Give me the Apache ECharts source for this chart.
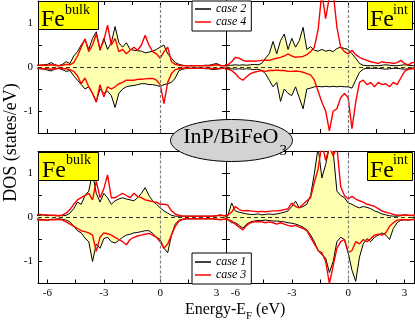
<!DOCTYPE html>
<html>
<head>
<meta charset="utf-8">
<script src="https://cdn.jsdelivr.net/npm/echarts@6/dist/echarts.min.js"></script>
<style>
  html, body { margin: 0; padding: 0; background: #fff; }
  #chart { width: 415px; height: 323px; }
</style>
</head>
<body>
<div id="chart"></div>
<script>
// energy grid (eV, relative to E_F)
const energy = [
  -6.6, -6.4, -6.2, -6.0, -5.8, -5.6, -5.4, -5.2, -5.0, -4.8,
  -4.6, -4.4, -4.2, -4.0, -3.8, -3.6, -3.4, -3.2, -3.0, -2.8,
  -2.6, -2.4, -2.2, -2.0, -1.8, -1.6, -1.4, -1.2, -1.0, -0.8,
  -0.6, -0.4, -0.2, 0.0, 0.2, 0.4, 0.6, 0.8, 1.0, 1.2,
  1.4, 1.6, 1.8, 2.0, 2.2, 2.4, 2.6, 2.8, 3.0, 3.2,
  3.4, 3.6
]

// Fe bulk, case 2 (black) / case 4 (red)
const bulkUp2 = [
  0.03, 0.04, 0.05, 0.06, 0.1, 0.05, 0.03, 0.06, 0.12, 0.08,
  0.25, 0.35, 0.5, 0.62, 0.4, 0.65, 0.8, 0.38, 0.65, 0.4,
  0.55, 0.92, 0.55, 0.45, 0.55, 0.4, 0.38, 0.37, 0.36, 0.32,
  0.34, 0.36, 0.4, 0.45, 0.5, 0.3, 0.2, 0.1, 0.06, 0.04,
  0.03, 0.03, 0.03, 0.03, 0.03, 0.04, 0.04, 0.06, 0.08, 0.04,
  0.03, 0.03
]
const bulkDn2 = [
  -0.03, -0.04, -0.05, -0.07, -0.09, -0.05, -0.03, -0.06, -0.1, -0.08,
  -0.2, -0.3, -0.4, -0.5, -0.45, -0.6, -0.78, -0.5, -0.6, -0.55,
  -0.65, -0.92, -0.6, -0.5, -0.45, -0.43, -0.42, -0.4, -0.38, -0.38,
  -0.4, -0.4, -0.42, -0.44, -0.4, -0.38, -0.35, -0.25, -0.08, -0.05,
  -0.03, -0.03, -0.03, -0.03, -0.03, -0.04, -0.04, -0.06, -0.05, -0.04,
  -0.03, -0.03
]
const bulkUp4 = [
  0.04, 0.04, 0.04, 0.04, 0.05, 0.04, 0.03, 0.04, 0.06, 0.05,
  0.1, 0.25, 0.45, 0.64, 0.35, 0.5, 0.75, 0.4, 0.6, 0.95,
  0.5, 0.65, 0.35, 0.4, 0.3, 0.38, 0.45, 0.38, 0.5, 0.72,
  0.5, 0.35, 0.3, 0.2, 0.35, 0.45, 0.12, 0.06, 0.04, 0.03,
  0.03, 0.03, 0.03, 0.03, 0.03, 0.03, 0.03, 0.04, 0.05, 0.03,
  0.03, 0.03
]
const bulkDn4 = [
  -0.03, -0.03, -0.04, -0.04, -0.05, -0.04, -0.03, -0.04, -0.04, -0.06,
  -0.1, -0.2, -0.38, -0.25, -0.45, -0.6, -0.8, -0.4, -0.68, -0.45,
  -0.5, -0.45, -0.38, -0.35, -0.3, -0.3, -0.3, -0.28, -0.28, -0.27,
  -0.26, -0.26, -0.3, -0.4, -0.83, -0.35, -0.15, -0.06, -0.04, -0.03,
  -0.03, -0.03, -0.03, -0.03, -0.03, -0.03, -0.03, -0.04, -0.04, -0.03,
  -0.03, -0.03
]

// Fe int, case 2 (black) / case 4 (red)
const intUp2 = [
  0.03, 0.04, 0.04, 0.05, 0.04, 0.05, 0.04, 0.05, 0.06, 0.05,
  0.08, 0.2, 0.3, 0.58, 0.3, 0.6, 0.75, 0.4, 0.65, 0.45,
  0.6, 0.9, 0.4, 0.46, 0.38, 0.36, 0.4, 0.36, 0.38, 0.35,
  0.42, 0.45, 0.42, 0.4, 0.3, 0.2, 0.08, 0.04, 0.03, 0.03,
  0.03, 0.03, 0.04, 0.05, 0.04, 0.03, 0.03, 0.04, 0.05, 0.04,
  0.03, 0.03
]
const intDn2 = [
  -0.03, -0.04, -0.04, -0.05, -0.04, -0.05, -0.04, -0.05, -0.06, -0.05,
  -0.08, -0.15, -0.3, -0.45, -0.35, -0.78, -0.5, -0.6, -0.65, -0.45,
  -0.7, -0.95, -0.5, -0.48, -0.45, -0.44, -0.45, -0.44, -0.45, -0.44,
  -0.45, -0.44, -0.45, -0.45, -0.48, -0.3, -0.12, -0.05, -0.03, -0.03,
  -0.03, -0.03, -0.04, -0.05, -0.04, -0.03, -0.03, -0.04, -0.05, -0.04,
  -0.03, -0.03
]
const intUp4 = [
  0.05, 0.05, 0.12, 0.22, 0.2, 0.15, 0.13, 0.14, 0.13, 0.14,
  0.15, 0.16, 0.15, 0.18, 0.2, 0.22, 0.25, 0.3, 0.25, 0.22,
  0.23, 0.24, 0.28, 0.35, 0.45, 0.85, 1.7, 1.1, 1.6, 1.7,
  0.9, 0.45, 0.35, 0.3, 0.38, 0.28, 0.22, 0.18, 0.15, 0.12,
  0.1, 0.08, 0.12, 0.1, 0.1, 0.08, 0.1, 0.15, 0.08, 0.05,
  0.1, 0.1
]
const intDn4 = [
  -0.05, -0.05, -0.08, -0.15, -0.25, -0.3, -0.22, -0.15, -0.12, -0.1,
  -0.08, -0.1, -0.08, -0.08, -0.07, -0.08, -0.08, -0.1, -0.1, -0.09,
  -0.1, -0.12, -0.15, -0.18, -0.3, -0.55, -0.8, -1.0, -1.45, -1.0,
  -0.95, -0.7, -0.6, -0.7, -1.4, -0.8, -0.35, -0.3, -0.4, -0.35,
  -0.45, -0.35, -0.4, -0.38, -0.45, -0.35, -0.4, -0.25, -0.1, -0.05,
  -0.04, -0.03
]

// Fe bulk, case 1 (black) / case 3 (red)
const bulkUp1 = [
  0.04, 0.05, 0.06, 0.04, 0.05, 0.04, 0.04, 0.04, 0.05, 0.1,
  0.2, 0.35, 0.3, 0.5, 0.6, 1.02, 0.55, 0.35, 0.55, 0.45,
  0.3, 0.38, 0.42, 0.45, 0.42, 0.4, 0.38, 0.45, 0.55, 0.68,
  0.5, 0.38, 0.3, 0.22, 0.15, 0.1, 0.05, 0.03, 0.03, 0.03,
  0.03, 0.03, 0.03, 0.03, 0.03, 0.03, 0.03, 0.03, 0.04, 0.06,
  0.04, 0.04
]
const bulkDn1 = [
  -0.03, -0.04, -0.05, -0.06, -0.04, -0.04, -0.03, -0.04, -0.06, -0.1,
  -0.2, -0.3, -0.35, -0.47, -0.55, -1.0, -0.6, -0.7, -0.48, -0.45,
  -0.55, -0.58, -0.52, -0.45, -0.4, -0.38, -0.35, -0.34, -0.32, -0.3,
  -0.3, -0.36, -0.45, -0.5, -0.7, -0.8, -0.4, -0.15, -0.06, -0.04,
  -0.03, -0.03, -0.03, -0.03, -0.03, -0.03, -0.03, -0.03, -0.04, -0.05,
  -0.04, -0.03
]
const bulkUp3 = [
  0.06, 0.07, 0.06, 0.06, 0.05, 0.05, 0.04, 0.06, 0.1, 0.18,
  0.3, 0.4, 0.45, 0.5, 0.55, 0.4, 0.82, 0.45, 0.65, 0.97,
  0.45, 0.45, 0.5, 0.55, 0.5, 0.45, 0.55, 0.48, 0.45, 0.4,
  0.38, 0.36, 0.35, 0.3, 0.3, 0.28, 0.15, 0.08, 0.05, 0.03,
  0.03, 0.03, 0.03, 0.03, 0.03, 0.03, 0.03, 0.03, 0.04, 0.05,
  0.04, 0.04
]
const bulkDn3 = [
  -0.05, -0.06, -0.05, -0.06, -0.05, -0.05, -0.04, -0.06, -0.1, -0.15,
  -0.2, -0.25, -0.3, -0.32, -0.35, -0.4, -0.77, -0.45, -0.35, -0.37,
  -0.4, -0.45, -0.5, -0.55, -0.62, -0.5, -0.45, -0.42, -0.4, -0.38,
  -0.36, -0.4, -0.45, -0.55, -0.7, -0.6, -0.4, -0.2, -0.08, -0.04,
  -0.03, -0.03, -0.03, -0.03, -0.03, -0.03, -0.03, -0.03, -0.04, -0.05,
  -0.04, -0.03
]

// Fe int, case 1 (black) / case 3 (red)
const intUp1 = [
  0.03, 0.04, 0.33, 0.15, 0.12, 0.1, 0.08, 0.07, 0.07, 0.08,
  0.06, 0.07, 0.08, 0.07, 0.08, 0.1, 0.12, 0.15, 0.25, 0.37,
  0.22, 0.25, 0.3, 0.5, 1.0, 1.6, 0.9, 1.2, 1.6, 1.5,
  0.6, 0.5, 0.45, 0.33, 0.3, 0.25, 0.22, 0.25, 0.23, 0.2,
  0.15, 0.12, 0.08, 0.06, 0.04, 0.03, 0.03, 0.04, 0.06, 0.05,
  0.04, 0.04
]
const intDn1 = [
  -0.03, -0.05, -0.12, -0.12, -0.18, -0.24, -0.15, -0.1, -0.08, -0.07,
  -0.07, -0.06, -0.07, -0.08, -0.08, -0.09, -0.1, -0.12, -0.13, -0.15,
  -0.18, -0.22, -0.28, -0.4, -0.55, -0.75, -0.85, -0.92, -1.25, -1.0,
  -0.55, -0.45, -0.5, -0.8, -1.2, -1.45, -0.9, -0.6, -0.48, -0.55,
  -0.45, -0.4, -0.35, -0.4, -0.5, -0.25, -0.12, -0.06, -0.05, -0.06,
  -0.04, -0.03
]
const intUp3 = [
  0.05, 0.06, 0.12, 0.25, 0.18, 0.15, 0.16, 0.15, 0.14, 0.13,
  0.14, 0.13, 0.14, 0.15, 0.15, 0.16, 0.18, 0.2, 0.33, 0.25,
  0.22, 0.3, 0.38, 0.45, 0.8, 1.1, 1.7, 1.3, 1.6, 1.4,
  1.6, 0.7, 0.5, 0.42, 0.48, 0.42, 0.38, 0.35, 0.3, 0.28,
  0.25, 0.2, 0.15, 0.12, 0.1, 0.07, 0.05, 0.05, 0.06, 0.05,
  0.05, 0.05
]
const intDn3 = [
  -0.04, -0.05, -0.08, -0.15, -0.22, -0.28, -0.18, -0.12, -0.1, -0.09,
  -0.1, -0.12, -0.1, -0.12, -0.15, -0.12, -0.15, -0.18, -0.2, -0.18,
  -0.22, -0.25, -0.3, -0.45, -0.6, -0.75, -0.8, -1.0, -1.5, -1.1,
  -0.7, -0.55, -0.5, -0.8, -0.75, -0.55, -0.6, -0.5, -0.55, -0.48,
  -0.4, -0.38, -0.4, -0.35, -0.2, -0.12, -0.06, -0.05, -0.05, -0.06,
  -0.05, -0.04
]

const xTicks = [-6, -4.5, -3, -1.5, 0, 1.5, 3]
const xLabels = [-6, -3, 0, 3]
const yTicks = [-1, -0.5, 0, 0.5, 1]
const yLabels = [-1, 0, 1]

const FONT = '"Liberation Serif", "DejaVu Serif", serif'
const AREA = '#ffffb0'

const panels = [
  { left: 38, top: 1, showX: false, showY: true, black: 'case 2', red: 'case 4', data: [bulkUp2, bulkDn2, bulkUp4, bulkDn4] },
  { left: 226, top: 1, showX: false, showY: false, black: 'case 2', red: 'case 4', data: [intUp2, intDn2, intUp4, intDn4] },
  { left: 38, top: 151.5, showX: true, showY: true, black: 'case 1', red: 'case 3', data: [bulkUp1, bulkDn1, bulkUp3, bulkDn3] },
  { left: 226, top: 151.5, showX: true, showY: false, black: 'case 1', red: 'case 3', data: [intUp1, intDn1, intUp3, intDn3] }
]

const labelStyle = { color: '#000', fontFamily: FONT, fontSize: 11 }

function xAxisFor(i, position, show) {
  return {
    type: 'value', gridIndex: i, position, min: -6.5, max: 3.5,
    axisLine: { onZero: false, lineStyle: { color: '#000', width: 1 } },
    axisTick: { inside: true, length: 4, customValues: xTicks, lineStyle: { color: '#000' } },
    axisLabel: Object.assign({ show, customValues: xLabels, margin: 4 }, labelStyle),
    splitLine: { show: false }
  }
}

function yAxisFor(i, position, show) {
  return {
    type: 'value', gridIndex: i, position, min: -1.5, max: 1.5,
    axisLine: { onZero: false, lineStyle: { color: '#000', width: 1 } },
    axisTick: { inside: true, length: 4, customValues: yTicks, lineStyle: { color: '#000' } },
    axisLabel: Object.assign({ show, customValues: yLabels, margin: 5 }, labelStyle),
    splitLine: { show: false }
  }
}

function curve(i, name, values, color, width, filled) {
  const s = {
    type: 'line', name, xAxisIndex: 2 * i, yAxisIndex: 2 * i,
    data: energy.map((e, k) => [e, values[k]]),
    symbol: 'none', color, itemStyle: { color },
    lineStyle: { color, width },
    silent: true
  }
  if (filled) s.areaStyle = { color: AREA, opacity: 1 }
  return s
}

const zeroLines = {
  silent: true, symbol: ['none', 'none'], label: { show: false },
  data: [
    { xAxis: 0, lineStyle: { color: '#808080', width: 1.2, type: [3, 2] } },
    { yAxis: 0, lineStyle: { color: '#333', width: 1, type: [4, 3] } }
  ]
}

const grid = [], xAxis = [], yAxis = [], series = []
panels.forEach((p, i) => {
  grid.push({ left: p.left, top: p.top, width: 188, height: 132 })
  xAxis.push(xAxisFor(i, 'bottom', p.showX), xAxisFor(i, 'top', false))
  yAxis.push(yAxisFor(i, 'left', p.showY), yAxisFor(i, 'right', false))
  const [bUp, bDn, rUp, rDn] = p.data
  series.push(curve(i, p.black, bUp, '#000', 1, true))
  series.push(Object.assign(curve(i, p.black, bDn, '#000', 1, true), { markLine: zeroLines }))
  series.push(curve(i, p.red, rUp, '#ff0000', 1.4, false))
  series.push(curve(i, p.red, rDn, '#ff0000', 1.4, false))
})

function legendAt(top, names, padding) {
  return {
    data: names, orient: 'vertical', left: 192, top,
    padding, itemGap: 1, itemWidth: 16, itemHeight: 1.5, icon: 'rect',
    backgroundColor: '#fff', borderColor: '#000', borderWidth: 1, borderRadius: 0,
    selectedMode: false,
    textStyle: { fontFamily: FONT, fontStyle: 'italic', fontSize: 12, lineHeight: 12, color: '#000', padding: [0, 1, 0, 0] }
  }
}

// plain text piece, placed by the middle of its em box
function txt(x, y, text, size, align, extra) {
  return Object.assign({
    type: 'text', x, y, z: 101,
    style: { text, font: size + 'px ' + FONT, fill: '#000', textAlign: align, textVerticalAlign: 'middle' }
  }, extra || {})
}

// yellow "Fe" tags
function tag(x, y, w, h) {
  return { type: 'rect', shape: { x, y, width: w, height: h }, style: { fill: '#ffff00', stroke: '#000', lineWidth: 1 }, z: 100 }
}

const graphic = [
  tag(38.5, 1.5, 60, 28), txt(41, 20, 'Fe', 24, 'left'), txt(65, 10, 'bulk', 14, 'left'),
  tag(367.5, 1.5, 45, 28), txt(370, 20, 'Fe', 24, 'left'), txt(393, 10, 'int', 14, 'left'),
  tag(38.5, 152.5, 60, 28), txt(42, 170.5, 'Fe', 24, 'left'), txt(66, 160.5, 'bulk', 14, 'left'),
  tag(367.5, 152.5, 45, 28), txt(370, 170.5, 'Fe', 24, 'left'), txt(393, 160.5, 'int', 14, 'left'),
  {
    type: 'ellipse', shape: { cx: 231.5, cy: 140.5, rx: 61, ry: 21 },
    style: { fill: '#d3d3d3', stroke: '#000', lineWidth: 1 }, z: 100
  },
  txt(278.5, 137, 'InP/BiFeO', 22, 'right'),
  txt(279.5, 151.5, '3', 15, 'left'),
  txt(11, 142.5, 'DOS (states/eV)', 18, 'center', { rotation: Math.PI / 2 }),
  txt(246, 309.6, 'Energy-E', 16, 'right'),
  txt(246, 316.5, 'F', 11, 'left'),
  txt(252, 309.6, ' (eV)', 16, 'left')
]

const chart = echarts.init(document.getElementById('chart'), null, { renderer: 'canvas' })
chart.setOption({
  animation: false,
  backgroundColor: '#fff',
  grid, xAxis, yAxis, series,
  legend: [
    legendAt(1, ['case 2', 'case 4'], [2, 4, 3, 3]),
    legendAt(253, ['case 1', 'case 3'], [3, 4, 3, 3])
  ],
  graphic
})
</script>
</body>
</html>
